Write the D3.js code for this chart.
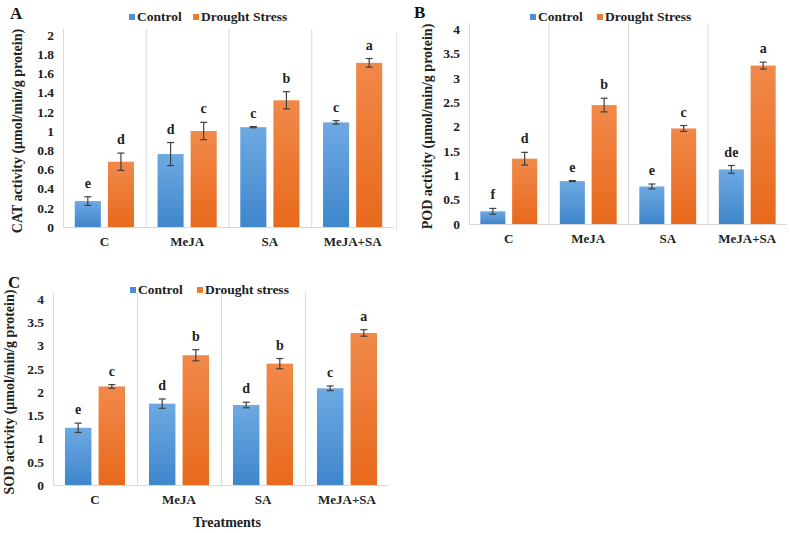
<!DOCTYPE html>
<html>
<head>
<meta charset="utf-8">
<script src="https://cdn.jsdelivr.net/npm/d3@7"></script>
<style>
  body { margin: 0; background: #fff; }
  svg { display: block; font-family: "Liberation Serif", "Times New Roman", serif; font-weight: bold; }
</style>
</head>
<body>
<svg id="chart" width="790" height="533"></svg>
<script>
// treatments on the x axis
var treatments = ['C', 'MeJA', 'SA', 'MeJA+SA'];

// CAT activity
var catControl = [0.27, 0.76, 1.04, 1.09];
var catControlErr = [0.045, 0.12, 0.006, 0.018];
var catDrought = [0.68, 1.0, 1.32, 1.71];
var catDroughtErr = [0.09, 0.09, 0.09, 0.045];
var catControlLetters = ['e', 'd', 'c', 'c'];
var catDroughtLetters = ['d', 'c', 'b', 'a'];
var catTicks = [0, 0.2, 0.4, 0.6, 0.8, 1, 1.2, 1.4, 1.6, 1.8, 2];

// POD activity
var podControl = [0.26, 0.88, 0.77, 1.12];
var podControlErr = [0.06, 0.01, 0.05, 0.08];
var podDrought = [1.34, 2.44, 1.96, 3.25];
var podDroughtErr = [0.13, 0.14, 0.06, 0.07];
var podControlLetters = ['f', 'e', 'e', 'de'];
var podDroughtLetters = ['d', 'b', 'c', 'a'];
var podTicks = [0, 0.5, 1, 1.5, 2, 2.5, 3, 3.5, 4];

// SOD activity
var sodControl = [1.23, 1.75, 1.72, 2.08];
var sodControlErr = [0.1, 0.1, 0.06, 0.05];
var sodDrought = [2.12, 2.79, 2.61, 3.27];
var sodDroughtErr = [0.04, 0.12, 0.11, 0.07];
var sodControlLetters = ['e', 'd', 'd', 'c'];
var sodDroughtLetters = ['c', 'b', 'b', 'a'];
var sodTicks = [0, 0.5, 1, 1.5, 2, 2.5, 3, 3.5, 4];

var svg = d3.select('#chart');

// excel style gradients for the bars
var defs = svg.append('defs');
function gradient(id, top, bottom) {
  var g = defs.append('linearGradient').attr('id', id)
    .attr('x1', 0).attr('y1', 0).attr('x2', 0).attr('y2', 1);
  g.append('stop').attr('offset', '0%').attr('stop-color', top);
  g.append('stop').attr('offset', '100%').attr('stop-color', bottom);
}
gradient('blueGrad', '#6ea9e2', '#3f86cc');
gradient('orangeGrad', '#f1894a', '#e8691c');

function drawPanel(config) {
  var g = svg.append('g');

  var x = d3.scaleBand().domain(treatments)
    .range([config.left, config.right]).padding(0);
  var inner = d3.scaleBand().domain(['control', 'drought'])
    .range([0, x.bandwidth()]).paddingInner(0.2125).paddingOuter(0.356);
  var y = d3.scaleLinear().domain([0, config.max])
    .range([config.bottom, config.top]);

  // vertical separators and the left axis line
  g.selectAll('.sep').data(treatments).enter().append('line')
    .attr('x1', function (d) { return x(d) + 0.5; })
    .attr('x2', function (d) { return x(d) + 0.5; })
    .attr('y1', config.top - 6).attr('y2', config.bottom)
    .attr('stroke', '#d9d9d9').attr('stroke-width', 1);

  g.append('line')
    .attr('x1', config.left).attr('x2', config.right)
    .attr('y1', config.bottom + 0.5).attr('y2', config.bottom + 0.5)
    .attr('stroke', '#d9d9d9');

  // y axis tick labels
  var yAxis = d3.axisLeft(y).tickValues(config.ticks).tickSize(0).tickPadding(9)
    .tickFormat(function (d) { return String(d); });
  var ya = g.append('g').attr('transform', 'translate(' + config.left + ',0)').call(yAxis);
  ya.attr('font-family', null).attr('font-size', 13.5);
  ya.select('.domain').remove();
  ya.selectAll('text').attr('fill', '#222');

  // x axis category labels
  var xAxis = d3.axisBottom(x).tickSize(0).tickPadding(10);
  var xa = g.append('g').attr('transform', 'translate(0,' + config.bottom + ')').call(xAxis);
  xa.attr('font-family', null).attr('font-size', 13);
  xa.select('.domain').remove();
  xa.selectAll('text').attr('fill', '#222');

  var series = [
    { key: 'control', values: config.control, err: config.controlErr, letters: config.controlLetters, fill: 'url(#blueGrad)' },
    { key: 'drought', values: config.drought, err: config.droughtErr, letters: config.droughtLetters, fill: 'url(#orangeGrad)' }
  ];

  series.forEach(function (s) {
    var rows = treatments.map(function (t, i) {
      return { t: t, v: s.values[i], e: s.err[i], l: s.letters[i] };
    });
    var bx = function (d) { return x(d.t) + inner(s.key); };
    var cx = function (d) { return bx(d) + inner.bandwidth() / 2; };

    g.selectAll('.bar-' + s.key).data(rows).enter().append('rect')
      .attr('x', bx)
      .attr('y', function (d) { return y(d.v); })
      .attr('width', inner.bandwidth())
      .attr('height', function (d) { return y(0) - y(d.v); })
      .attr('fill', s.fill);

    // error bars
    var eg = g.selectAll('.err-' + s.key).data(rows).enter().append('g')
      .attr('stroke', '#404040').attr('stroke-width', 1.2);
    eg.append('line')
      .attr('x1', cx).attr('x2', cx)
      .attr('y1', function (d) { return y(d.v + d.e); })
      .attr('y2', function (d) { return y(d.v - d.e); });
    [1, -1].forEach(function (sign) {
      eg.append('line')
        .attr('x1', function (d) { return cx(d) - 3.5; })
        .attr('x2', function (d) { return cx(d) + 3.5; })
        .attr('y1', function (d) { return y(d.v + sign * d.e); })
        .attr('y2', function (d) { return y(d.v + sign * d.e); });
    });

    // significance letters
    g.selectAll('.let-' + s.key).data(rows).enter().append('text')
      .attr('x', cx)
      .attr('y', function (d) { return y(d.v + d.e) - 9; })
      .attr('text-anchor', 'middle')
      .attr('font-size', 14)
      .attr('fill', '#222')
      .text(function (d) { return d.l; });
  });

  // y axis title
  g.append('text')
    .attr('transform', 'translate(' + config.titleX + ',' + ((config.top + config.bottom) / 2) + ') rotate(-90)')
    .attr('text-anchor', 'middle')
    .attr('font-size', 14)
    .attr('fill', '#222')
    .text(config.title);

  // panel letter
  g.append('text')
    .attr('x', config.letterX).attr('y', config.letterY)
    .attr('font-size', 17).attr('fill', '#111')
    .text(config.letter);

  // legend
  var lg = g.append('g').attr('transform', 'translate(' + config.legendX + ',' + config.legendY + ')');
  lg.append('rect').attr('x', 0).attr('y', -7).attr('width', 6).attr('height', 6).attr('fill', '#4a90d6');
  lg.append('text').attr('x', 8).attr('y', 0).attr('font-size', 13.5).attr('fill', '#222').text('Control');
  lg.append('rect').attr('x', config.legendGap).attr('y', -7).attr('width', 6).attr('height', 6).attr('fill', '#ed7d31');
  lg.append('text').attr('x', config.legendGap + 8).attr('y', 0).attr('font-size', 13.5).attr('fill', '#222').text(config.droughtLabel);
}

drawPanel({
  letter: 'A', letterX: 10, letterY: 19,
  left: 63, right: 394, top: 35, bottom: 227, max: 2, ticks: catTicks,
  control: catControl, controlErr: catControlErr, controlLetters: catControlLetters,
  drought: catDrought, droughtErr: catDroughtErr, droughtLetters: catDroughtLetters,
  title: 'CAT activity (\u03bcmol/min/g protein)', titleX: 22,
  legendX: 129, legendY: 21, legendGap: 64, droughtLabel: 'Drought Stress'
});

drawPanel({
  letter: 'B', letterX: 414, letterY: 18,
  left: 469, right: 787, top: 29, bottom: 224, max: 4, ticks: podTicks,
  control: podControl, controlErr: podControlErr, controlLetters: podControlLetters,
  drought: podDrought, droughtErr: podDroughtErr, droughtLetters: podDroughtLetters,
  title: 'POD activity (\u03bcmol/min/g protein)', titleX: 432,
  legendX: 530, legendY: 21, legendGap: 67, droughtLabel: 'Drought Stress'
});

drawPanel({
  letter: 'C', letterX: 8, letterY: 288,
  left: 53, right: 389, top: 299, bottom: 485, max: 4, ticks: sodTicks,
  control: sodControl, controlErr: sodControlErr, controlLetters: sodControlLetters,
  drought: sodDrought, droughtErr: sodDroughtErr, droughtLetters: sodDroughtLetters,
  title: 'SOD activity (\u03bcmol/min/g protein)', titleX: 14,
  legendX: 130, legendY: 294, legendGap: 67, droughtLabel: 'Drought stress'
});

// faint frame edge left of panel B
svg.append('line')
  .attr('x1', 396.5).attr('x2', 396.5).attr('y1', 32).attr('y2', 230)
  .attr('stroke', '#e3e3e3');

// x axis title under the last panel
svg.append('text')
  .attr('x', 227).attr('y', 527)
  .attr('text-anchor', 'middle')
  .attr('font-size', 14)
  .attr('fill', '#222')
  .text('Treatments');
</script>
</body>
</html>
